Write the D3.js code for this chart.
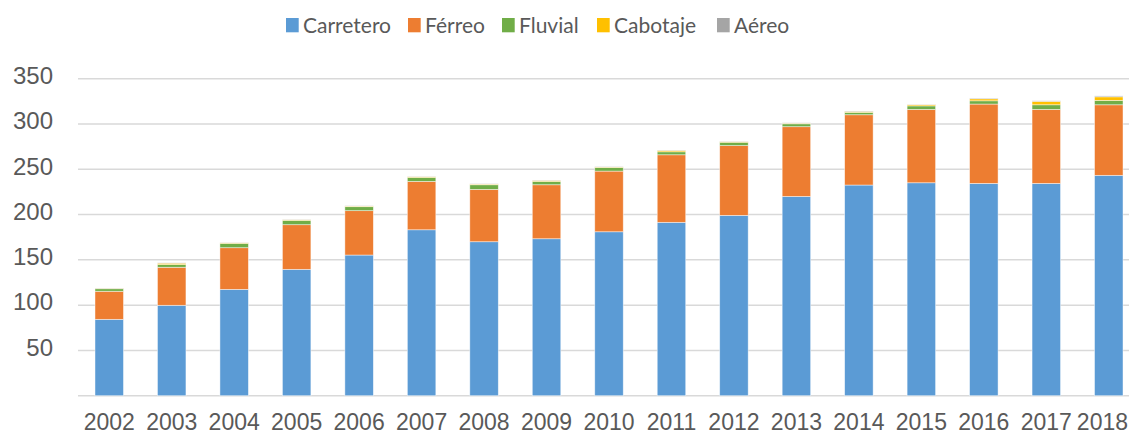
<!DOCTYPE html>
<html>
<head>
<meta charset="utf-8">
<script src="https://cdn.jsdelivr.net/npm/d3@7"></script>
<style>
  body { margin: 0; background: #fff; }
  svg { display: block; font-family: Lato, "DejaVu Sans", sans-serif; }
  .tick text { fill: #595959; }
</style>
</head>
<body>
<div id="chart"></div>
<script>
// categories and series (millones de toneladas)
var years = ["2002","2003","2004","2005","2006","2007","2008","2009","2010",
             "2011","2012","2013","2014","2015","2016","2017","2018"];
var carretero = [84.3, 99.8, 117.4, 139.5, 155.3, 183.2, 170, 173.3, 181,
                 191.4, 199.1, 220, 232.6, 235.1, 234.4, 234.4, 243.3];
var ferreo = [31, 42, 46, 49.3, 49, 53.4, 57.8, 59.6, 67,
              74.6, 77, 77, 77.6, 81, 87.6, 81.7, 77.9];
var fluvial = [2.8, 3, 4.8, 4.8, 4.4, 4.4, 5.1, 3.7, 4,
               3.3, 3.7, 3.2, 2.6, 3.9, 3.6, 5.1, 4.8];
var cabotaje = [0.5, 1.5, 0.7, 0.7, 0.7, 0.8, 0.8, 1, 0.5,
                1.5, 0.7, 0.7, 1, 1.3, 2.2, 3.8, 4];
var aereo = [0.3, 0.4, 0.3, 0.4, 0.3, 0.4, 0.3, 0.4, 0.3,
             0.4, 0.4, 0.4, 0.5, 0.4, 0.8, 0.6, 1];
var seriesNames = ["Carretero", "Férreo", "Fluvial", "Cabotaje", "Aéreo"];
var colors = ["#5B9BD5", "#ED7D31", "#70AD47", "#FFC000", "#A5A5A5"];
var yTicks = [50, 100, 150, 200, 250, 300, 350];

var width = 1129, height = 436;

var svg = d3.select("#chart").append("svg")
    .attr("width", width)
    .attr("height", height);

// build rows for the stack
var rows = years.map(function(y, i){
  return {year: y, "Carretero": carretero[i], "Férreo": ferreo[i],
          "Fluvial": fluvial[i], "Cabotaje": cabotaje[i], "Aéreo": aereo[i]};
});
var stacked = d3.stack().keys(seriesNames)(rows);

var x = d3.scaleBand()
    .domain(years)
    .range([78, 1140])
    .paddingInner(0.544)
    .paddingOuter(0.272);

var y = d3.scaleLinear()
    .domain([0, 350])
    .range([395.7, 78.7]);

var color = d3.scaleOrdinal().domain(seriesNames).range(colors);

// gridlines
svg.append("g")
   .selectAll("line")
   .data([0].concat(yTicks))
   .enter()
   .append("line")
   .attr("x1", 78)
   .attr("x2", width)
   .attr("y1", function(d){ return y(d); })
   .attr("y2", function(d){ return y(d); })
   .style("stroke", "#d9d9d9")
   .style("stroke-width", 1.5);

// y axis labels
var yAxis = d3.axisLeft(y).tickValues(yTicks).tickSize(0).tickPadding(0);
svg.append("g")
   .attr("transform", "translate(53,0)")
   .call(yAxis)
   .call(function(g){ g.select(".domain").remove(); })
   .selectAll("text")
   .attr("dy", "0.2em")
   .style("font-size", "24px");

// bars
svg.append("g").selectAll("g")
   .data(stacked)
   .enter()
   .append("g")
   .attr("fill", function(d){ return color(d.key); })
   .selectAll("rect")
   .data(function(d){ return d; })
   .enter()
   .append("rect")
   .attr("x", function(d){ return x(d.data.year); })
   .attr("y", function(d){ return y(d[1]); })
   .attr("width", x.bandwidth())
   .attr("height", function(d){ return y(d[0]) - y(d[1]); })
   .style("stroke", "rgba(255,255,255,0.6)")
   .style("stroke-width", 0.75);

// x axis labels
var xAxis = d3.axisBottom(x).tickSize(0).tickPadding(0);
svg.append("g")
   .attr("transform", "translate(0,430)")
   .call(xAxis)
   .call(function(g){ g.select(".domain").remove(); })
   .selectAll("text")
   .attr("dy", "0")
   .style("font-size", "23px");

// last label sits at the right edge; nudge it so it stays inside
svg.selectAll(".tick text")
   .filter(function(d){ return d === years[years.length - 1]; })
   .attr("text-anchor", "end")
   .attr("x", width - x(years[years.length - 1]) - x.bandwidth() / 2 - 1);

// legend
var legendX = [286, 408, 502, 597, 717];
var legend = svg.append("g").selectAll("g")
   .data(seriesNames)
   .enter()
   .append("g")
   .attr("transform", function(d, i){ return "translate(" + legendX[i] + ",18)"; });
legend.append("rect")
   .attr("width", 12.7)
   .attr("height", 14.3)
   .attr("fill", function(d){ return color(d); });
legend.append("text")
   .attr("x", 17)
   .attr("y", 14.5)
   .style("font-size", "21px")
   .style("fill", "#595959")
   .text(function(d){ return d; });
</script>
</body>
</html>
